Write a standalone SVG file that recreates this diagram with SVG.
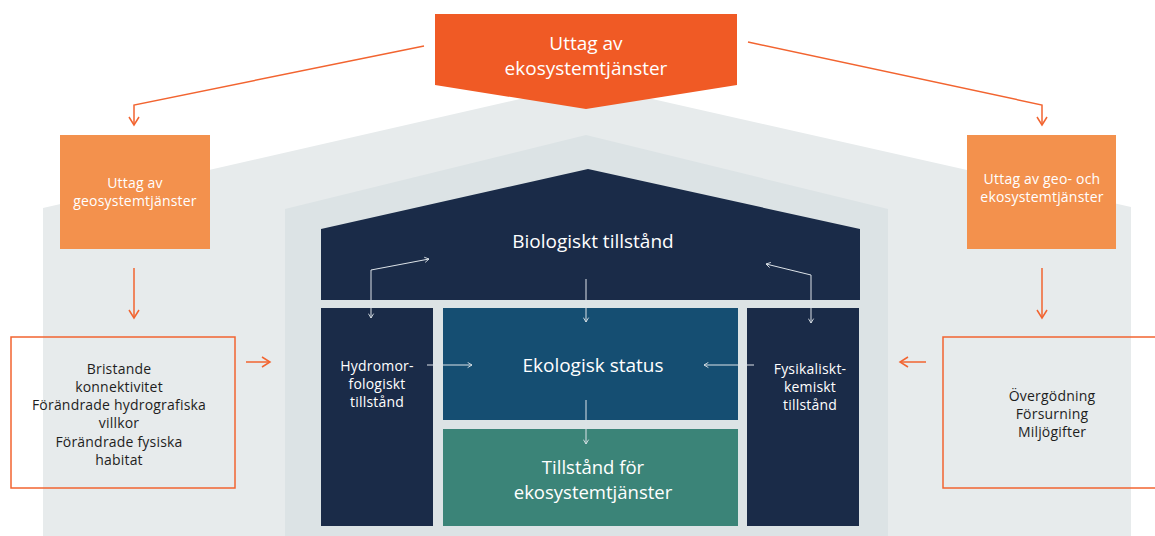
<svg xmlns="http://www.w3.org/2000/svg" width="1155" height="536" viewBox="0 0 1155 536">
<defs>
<style>
.t{font-family:"Open Sans","Noto Sans",sans-serif;text-anchor:middle}
.w{fill:#ffffff}
.d{fill:#1e1e1e;font-size:14px;letter-spacing:0.2px}
.big{font-size:19px}
.mid{font-size:14px;letter-spacing:0.2px}
.oc{fill:none;stroke:#F26430;stroke-width:1.5}
.wc{fill:none;stroke:#DDE3E8;stroke-width:1}
</style>
<marker id="ao" viewBox="0 0 12 12" refX="10" refY="6" markerWidth="12" markerHeight="12" markerUnits="userSpaceOnUse" orient="auto">
<path d="M2,1 L10,6 L2,11" fill="none" stroke="#F26430" stroke-width="1.5"/>
</marker>
<marker id="aw" viewBox="0 0 8 8" refX="7" refY="4" markerWidth="7" markerHeight="7" markerUnits="userSpaceOnUse" orient="auto-start-reverse">
<path d="M2,1 L7,4 L2,7" fill="none" stroke="#DDE3E8" stroke-width="1"/>
</marker>
</defs>
<rect width="1155" height="536" fill="#ffffff"/>
<g id="background">
<polygon points="43,208 586,84 1131,207 1131,536 43,536" fill="#E7EBEC"/>
<polygon points="285,209 586,135 888,209 888,536 285,536" fill="#DCE3E5"/>
</g>
<g id="top">
<polygon points="435,14 737,14 737,85 586,109 435,85" fill="#F05A25"/>
<text class="t w" font-size="19" x="586" y="50">Uttag av</text>
<text class="t w" font-size="19" x="586" y="75">ekosystemtjänster</text>
</g>
<g id="left-orange">
<rect x="60" y="135" width="150" height="114" fill="#F3914D"/>
<text class="t w mid" x="135" y="188">Uttag av</text>
<text class="t w mid" x="135" y="206">geosystemtjänster</text>
</g>
<g id="right-orange">
<rect x="967" y="135" width="149" height="114" fill="#F3914D"/>
<text class="t w mid" x="1042" y="184">Uttag av geo- och</text>
<text class="t w mid" x="1042" y="202">ekosystemtjänster</text>
</g>
<g id="left-box">
<rect x="11" y="337" width="224" height="151" fill="none" stroke="#F26430" stroke-width="1.5"/>
<text class="t d" x="119" y="374">Bristande</text>
<text class="t d" x="119" y="392">konnektivitet</text>
<text class="t d" x="119" y="410">Förändrade hydrografiska</text>
<text class="t d" x="119" y="428">villkor</text>
<text class="t d" x="119" y="447">Förändrade fysiska</text>
<text class="t d" x="119" y="465">habitat</text>
</g>
<g id="right-box">
<rect x="943" y="337" width="230" height="151" fill="none" stroke="#F26430" stroke-width="1.5"/>
<text class="t d" x="1052" y="401">Övergödning</text>
<text class="t d" x="1052" y="419">Försurning</text>
<text class="t d" x="1052" y="437">Miljögifter</text>
</g>
<g id="biologiskt">
<polygon points="321,229 588,169 860,229 860,300 321,300" fill="#1A2B48"/>
<text class="t w big" x="593" y="248">Biologiskt tillstånd</text>
</g>
<g id="hydromorfologiskt">
<rect x="321" y="308" width="112" height="218" fill="#1A2B48"/>
<text class="t w mid" x="377" y="371">Hydromor-</text>
<text class="t w mid" x="377" y="389">fologiskt</text>
<text class="t w mid" x="377" y="407">tillstånd</text>
</g>
<g id="ekologisk">
<rect x="443" y="308" width="295" height="112" fill="#154E72"/>
<text class="t w big" x="593" y="372">Ekologisk status</text>
</g>
<g id="tillstand">
<rect x="443" y="429" width="295" height="97" fill="#3B8478"/>
<text class="t w" font-size="18.5" x="593" y="474">Tillstånd för</text>
<text class="t w" font-size="18.5" x="593" y="499">ekosystemtjänster</text>
</g>
<g id="fysikaliskt">
<rect x="747" y="308" width="112" height="218" fill="#1A2B48"/>
<text class="t w mid" x="810" y="374">Fysikaliskt-</text>
<text class="t w mid" x="810" y="392">kemiskt</text>
<text class="t w mid" x="810" y="410">tillstånd</text>
</g>
<g id="connectors">
<polyline class="oc" points="424,46 134,105 134,125" marker-end="url(#ao)"/>
<polyline class="oc" points="748,42 1042,105 1042,125" marker-end="url(#ao)"/>
<line class="oc" x1="134" y1="268" x2="134" y2="318" marker-end="url(#ao)"/>
<line class="oc" x1="1042" y1="268" x2="1042" y2="318" marker-end="url(#ao)"/>
<line class="oc" x1="246" y1="362" x2="270" y2="362" marker-end="url(#ao)"/>
<line class="oc" x1="926" y1="362" x2="900" y2="362" marker-end="url(#ao)"/>
<polyline class="wc" points="429,259 371,270 371,318" marker-start="url(#aw)" marker-end="url(#aw)"/>
<polyline class="wc" points="766,264 811,275 811,323" marker-start="url(#aw)" marker-end="url(#aw)"/>
<line class="wc" x1="586" y1="279" x2="586" y2="322" marker-end="url(#aw)"/>
<line class="wc" x1="586" y1="400" x2="586" y2="444" marker-end="url(#aw)"/>
<line class="wc" x1="427" y1="365" x2="472" y2="365" marker-end="url(#aw)"/>
<line class="wc" x1="754" y1="365" x2="704" y2="365" marker-end="url(#aw)"/>
</g>
</svg>
